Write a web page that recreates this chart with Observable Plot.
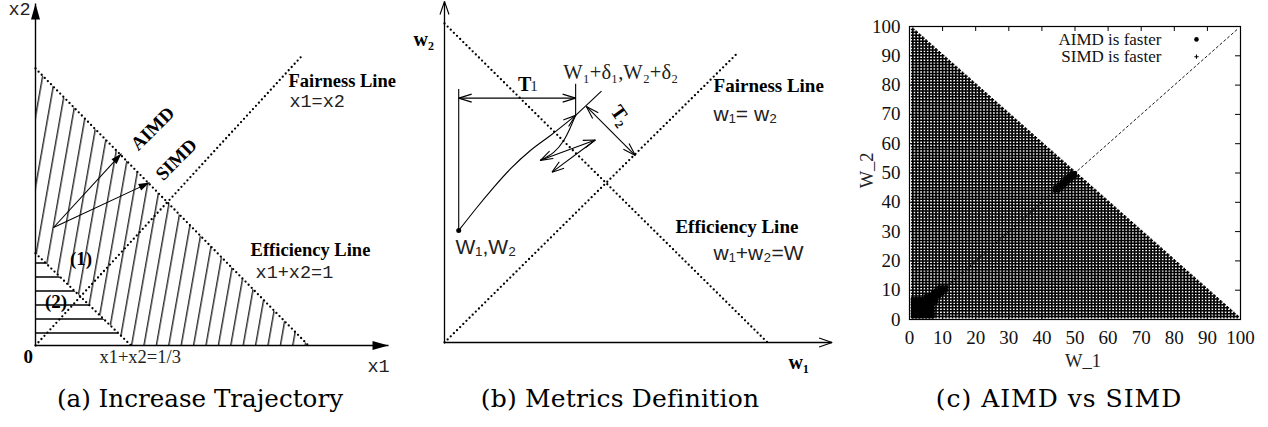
<!DOCTYPE html>
<html><head><meta charset="utf-8">
<script src="https://cdn.jsdelivr.net/npm/d3@7"></script>
<script src="https://cdn.jsdelivr.net/npm/@observablehq/plot@0.6"></script>
<style>
html,body{margin:0;padding:0;background:#fff;}
#root{position:relative;width:1268px;height:427px;overflow:hidden;background:#fff;}
.panel{position:absolute;top:0;}
.caption{position:absolute;top:386px;font-family:"DejaVu Serif";font-size:25px;line-height:25px;white-space:nowrap;transform:translateX(-50%);color:#000;}
</style></head><body>
<svg width="0" height="0" style="position:absolute">
<defs>
<pattern id="hatchDiag" patternUnits="userSpaceOnUse" width="12.4" height="40" patternTransform="skewX(-10)">
<line x1="6.5" y1="0" x2="6.5" y2="40" stroke="#000" stroke-width="1.2"/>
</pattern>
<pattern id="hatchHoriz" patternUnits="userSpaceOnUse" width="40" height="14">
<line x1="0" y1="11" x2="40" y2="11" stroke="#000" stroke-width="1.3"/>
</pattern>
</defs></svg>
<div id="root"></div>
<script>
// ---------------- Panel (a): Increase Trajectory ----------------
const aEfficiency = [{x: 0, y: 1}, {x: 1, y: 0}];
const aThird = [{x: 0, y: 0.333}, {x: 0.35, y: 0}];
const aFairness = [{x: 0, y: 0}, {x: 0.98, y: 1.05}];
const aRegion1 = [{x: 0, lo: 0.333, hi: 1}, {x: 0.35, lo: 0, hi: 0.65}, {x: 1, lo: 0, hi: 0}];
const aRegion2 = [{x: 0, lo: 0, hi: 0.333}, {x: 0.35, lo: 0, hi: 0}];
const aAxes = [{x1: 0, y1: 0, x2: 1.293, y2: 0}, {x1: 0, y1: 0, x2: 0, y2: 1.235}];
const aMoves = [
  {x1: 0.066, y1: 0.426, x2: 0.315, y2: 0.693},
  {x1: 0.066, y1: 0.426, x2: 0.418, y2: 0.588}
];
const aBoldLabels = [
  {text: "Fairness Line", x: 0.927, y: 0.953},
  {text: "Efficiency Line", x: 0.788, y: 0.343}
];
const aMonoLabels = [
  {text: "x1=x2", x: 0.930, y: 0.884},
  {text: "x1+x2=1", x: 0.806, y: 0.264},
  {text: "x2", x: -0.099, y: 1.213},
  {text: "x1", x: 1.216, y: -0.076}
];
const aCenterBold = [
  {text: "(1)", x: 0.167, y: 0.314},
  {text: "(2)", x: 0.075, y: 0.159},
  {text: "0", x: -0.027, y: -0.040}
];
const aSchemeLabels = [{text: "AIMD", x: 0.429, y: 0.783}, {text: "SIMD", x: 0.516, y: 0.671}];
const aSerifLabels = [{text: "x1+x2=1/3", x: 0.234, y: -0.040}];

// ---------------- Panel (b): Metrics Definition ----------------
const bEfficiency = [{x: 0, y: 1}, {x: 1, y: 0}];
const bFairness = [{x: 0, y: 0}, {x: 0.907, y: 0.907}];
const bAxes = [{x1: 0, y1: 0, x2: 1.2, y2: 0}, {x1: 0, y1: 0, x2: 0, y2: 1.069}];
const bStart = [{x: 0.044, y: 0.351}];
const bPath1 = [
  {x: 0.044, y: 0.351}, {x: 0.101, y: 0.424}, {x: 0.153, y: 0.487}, {x: 0.204, y: 0.544},
  {x: 0.266, y: 0.602}, {x: 0.328, y: 0.649}, {x: 0.406, y: 0.712}
];
const bPath2 = [
  {x: 0.406, y: 0.712}, {x: 0.390, y: 0.675}, {x: 0.369, y: 0.633}, {x: 0.338, y: 0.596}, {x: 0.297, y: 0.571}
];
const bOscillation = [
  {x1: 0.297, y1: 0.571, x2: 0.467, y2: 0.635},
  {x1: 0.467, y1: 0.635, x2: 0.333, y2: 0.534}
];
const bGuides = [
  {x1: 0.044, y1: 0.351, x2: 0.044, y2: 0.795},
  {x1: 0.406, y1: 0.712, x2: 0.406, y2: 0.811},
  {x1: 0.406, y1: 0.712, x2: 0.486, y2: 0.788}
];
const bSpans = [
  {x1: 0.044, y1: 0.766, x2: 0.406, y2: 0.766},
  {x1: 0.439, y1: 0.740, x2: 0.591, y2: 0.586}
];
const bBoldLabels = [
  {text: "Fairness Line", x: 0.833, y: 0.803},
  {text: "Efficiency Line", x: 0.715, y: 0.361}
];
const bSansLabels = [
  {text: "w₁= w₂", x: 0.833, y: 0.716},
  {text: "w₁+w₂=W", x: 0.833, y: 0.279},
  {text: "W₁,W₂", x: 0.034, y: 0.299}
];
const bSerifLabels = [{text: "W₁+δ₁,W₂+δ₂", x: 0.368, y: 0.846}];
const bAxisLabels = [{text: "w₂", x: -0.096, y: 0.950}, {text: "w₁", x: 1.065, y: -0.063}];
const bT1 = [{text: "T", x: 0.248, y: 0.809}];
const bT1sub = [{text: "1", x: 0.277, y: 0.802}];
const bT2 = [{text: "T₂", x: 0.545, y: 0.712}];

// ---------------- Panel (c): AIMD vs SIMD ----------------
const cTicks = [0, 10, 20, 30, 40, 50, 60, 70, 80, 90, 100];
const cWindowSizes = d3.range(1, 100); // one simulated point per integer window size
// AIMD-is-faster cells: [W_2, first W_1, last W_1]
const cAimdRows = [
  [1, 1, 7], [2, 1, 7], [3, 1, 7], [4, 1, 7], [5, 1, 7], [6, 1, 8], [7, 1, 8],
  [8, 5, 9], [9, 7, 10], [10, 8, 11], [11, 9, 11],
  [44, 44, 45], [45, 44, 46], [46, 45, 47], [47, 46, 48], [48, 47, 49], [49, 48, 50], [50, 49, 50]
];
const cDiagonal = [{x: 1, y: 1}, {x: 99, y: 99}];
const cLegend = [
  {text: "AIMD is faster", x: 76.1, y: 95.6, sx: 86.7, kind: "dot"},
  {text: "SIMD is faster", x: 76.1, y: 89.7, sx: 86.7, kind: "plus"}
];
const cXLabel = [{text: "W_1", x: 52.4, y: -14.3}];
const cYLabel = [{text: "W_2", x: -12.8, y: 50.9}];

// derived tables
const cSimd = [];
for (const w1 of cWindowSizes) for (const w2 of cWindowSizes) if (w1 + w2 <= 100) cSimd.push({w1, w2});
const cAimd = [];
for (const [w2, a, b] of cAimdRows) for (let w1 = a; w1 <= b; ++w1) cAimd.push({w1, w2});

// ---------------- helpers ----------------
const NS = "http://www.w3.org/2000/svg";
function head(len, half, filled, orient = "auto") {
  return (color) => {
    const m = document.createElementNS(NS, "marker");
    m.setAttribute("viewBox", `-2 ${-half - 2} ${len + 4} ${2 * half + 4}`);
    m.setAttribute("markerUnits", "userSpaceOnUse");
    m.setAttribute("markerWidth", len + 4);
    m.setAttribute("markerHeight", 2 * half + 4);
    m.setAttribute("refX", len);
    m.setAttribute("refY", 0);
    m.setAttribute("orient", orient);
    m.setAttribute("overflow", "visible");
    const p = document.createElementNS(NS, "path");
    p.setAttribute("d", filled ? `M0,${-half}L${len},0L0,${half}Z` : `M0,${-half}L${len},0L0,${half}`);
    p.setAttribute("fill", filled ? color : "none");
    p.setAttribute("stroke", filled ? "none" : color);
    p.setAttribute("stroke-width", 1.1);
    m.appendChild(p);
    return m;
  };
}
const dotted = {stroke: "black", strokeWidth: 2.3, strokeDasharray: "0 4.4", strokeLinecap: "round"};
const serif = "Liberation Serif", mono = "Liberation Mono", sans = "Liberation Sans";
const baseStyle = {background: "transparent", overflow: "visible", color: "black"};

function mount(node, left, width) {
  const d = document.createElement("div");
  d.className = "panel";
  d.style.left = left + "px";
  d.style.width = width + "px";
  d.appendChild(node);
  document.getElementById("root").appendChild(d);
}
function caption(text, cx, size, spacing) {
  const d = document.createElement("div");
  d.className = "caption";
  d.style.left = cx + "px";
  d.style.fontSize = size + "px";
  d.style.letterSpacing = spacing + "px";
  d.textContent = text;
  document.getElementById("root").appendChild(d);
}

// ---------------- Panel (a) ----------------
const plotA = Plot.plot({
  width: 420, height: 380, margin: 0,
  style: baseStyle,
  x: {domain: [0, 1], range: [35, 308], axis: null},
  y: {domain: [0, 1], range: [345, 68], axis: null},
  marks: [
    Plot.area(aRegion1, {x1: "x", y1: "lo", y2: "hi", fill: "url(#hatchDiag)"}),
    Plot.area(aRegion2, {x1: "x", y1: "lo", y2: "hi", fill: "url(#hatchHoriz)"}),
    Plot.line(aEfficiency, {x: "x", y: "y", ...dotted}),
    Plot.line(aThird, {x: "x", y: "y", ...dotted}),
    Plot.line(aFairness, {x: "x", y: "y", ...dotted}),
    Plot.link(aAxes, {x1: "x1", y1: "y1", x2: "x2", y2: "y2", stroke: "black", strokeWidth: 1.4, markerEnd: head(16, 4.5, true)}),
    Plot.link(aMoves, {x1: "x1", y1: "y1", x2: "x2", y2: "y2", stroke: "black", strokeWidth: 1.1, markerEnd: head(11, 3.5, true)}),
    Plot.text(aBoldLabels, {x: "x", y: "y", text: "text", textAnchor: "start", fontFamily: serif, fontWeight: "bold", fontSize: 18.5, fill: "black"}),
    Plot.text(aMonoLabels, {x: "x", y: "y", text: "text", textAnchor: "start", fontFamily: mono, fontSize: 18.5, fill: "#222"}),
    Plot.text(aCenterBold, {x: "x", y: "y", text: "text", fontFamily: serif, fontWeight: "bold", fontSize: 19, fill: "black"}),
    Plot.text(aSchemeLabels, {x: "x", y: "y", text: "text", rotate: -45, fontFamily: serif, fontWeight: "bold", fontSize: 19, fill: "black"}),
    Plot.text(aSerifLabels, {x: "x", y: "y", text: "text", textAnchor: "start", fontFamily: serif, fontSize: 18.5, fill: "#222"})
  ]
});
mount(plotA, 0, 420);

// ---------------- Panel (b) ----------------
const plotB = Plot.plot({
  width: 470, height: 380, margin: 0,
  style: baseStyle,
  x: {domain: [0, 1], range: [64, 387], axis: null},
  y: {domain: [0, 1], range: [342, 23], axis: null},
  marks: [
    Plot.line(bEfficiency, {x: "x", y: "y", ...dotted}),
    Plot.line(bFairness, {x: "x", y: "y", ...dotted}),
    Plot.link(bAxes, {x1: "x1", y1: "y1", x2: "x2", y2: "y2", stroke: "black", strokeWidth: 1.3, markerEnd: head(13, 4.5, false)}),
    Plot.link(bGuides, {x1: "x1", y1: "y1", x2: "x2", y2: "y2", stroke: "black", strokeWidth: 1.1}),
    Plot.link(bSpans, {x1: "x1", y1: "y1", x2: "x2", y2: "y2", stroke: "black", strokeWidth: 1.1,
      markerStart: head(13, 4, false, "auto-start-reverse"), markerEnd: head(13, 4, false)}),
    Plot.line(bPath1, {x: "x", y: "y", curve: "natural", stroke: "black", strokeWidth: 1.1, markerEnd: head(12, 4, false)}),
    Plot.line(bPath2, {x: "x", y: "y", curve: "natural", stroke: "black", strokeWidth: 1.1, markerEnd: head(12, 4, false)}),
    Plot.link(bOscillation, {x1: "x1", y1: "y1", x2: "x2", y2: "y2", stroke: "black", strokeWidth: 1.1, markerEnd: head(12, 4, false)}),
    Plot.dot(bStart, {x: "x", y: "y", r: 2.5, fill: "black"}),
    Plot.text(bBoldLabels, {x: "x", y: "y", text: "text", textAnchor: "start", fontFamily: serif, fontWeight: "bold", fontSize: 19, fill: "black"}),
    Plot.text(bSansLabels, {x: "x", y: "y", text: "text", textAnchor: "start", fontFamily: sans, fontSize: 21, fill: "#222"}),
    Plot.text(bSerifLabels, {x: "x", y: "y", text: "text", textAnchor: "start", fontFamily: serif, fontSize: 20.5, fill: "#222"}),
    Plot.text(bAxisLabels, {x: "x", y: "y", text: "text", textAnchor: "start", fontFamily: serif, fontWeight: "bold", fontSize: 20, fill: "black"}),
    Plot.text(bT1, {x: "x", y: "y", text: "text", fontFamily: serif, fontWeight: "bold", fontSize: 20, fill: "black"}),
    Plot.text(bT1sub, {x: "x", y: "y", text: "text", fontFamily: serif, fontSize: 15, fill: "#222"}),
    Plot.text(bT2, {x: "x", y: "y", text: "text", rotate: 55, fontFamily: serif, fontWeight: "bold", fontSize: 20, fill: "black"})
  ]
});
mount(plotB, 380, 470);

// ---------------- Panel (c) ----------------
const plotC = Plot.plot({
  width: 418, height: 380,
  marginLeft: 59, marginRight: 28, marginTop: 26, marginBottom: 61,
  style: {...baseStyle, fontFamily: serif, fontSize: "18px"},
  x: {domain: [0, 100], axis: null},
  y: {domain: [0, 100], axis: null},
  marks: [
    Plot.dot(cSimd, {x: "w1", y: "w2", symbol: "plus", r: 1.3, stroke: "black", strokeWidth: 1.5}),
    Plot.dot(cAimd, {x: "w1", y: "w2", r: 2.3, fill: "black"}),
    Plot.line(cDiagonal, {x: "x", y: "y", stroke: "black", strokeWidth: 0.9, strokeDasharray: "3 2", strokeLinecap: "butt"}),
    Plot.ruleX(cTicks, {x: (d) => d, y1: 0, y2: 1.7, stroke: "black"}),
    Plot.ruleX(cTicks, {x: (d) => d, y1: 98.3, y2: 100, stroke: "black"}),
    Plot.ruleY(cTicks, {y: (d) => d, x1: 0, x2: 1.5, stroke: "black"}),
    Plot.ruleY(cTicks, {y: (d) => d, x1: 98.5, x2: 100, stroke: "black"}),
    Plot.frame({stroke: "black", strokeWidth: 1.2}),
    Plot.text(cTicks, {x: (d) => d, y: 0, dy: 18, text: (d) => String(d), fontSize: 19, fill: "#111"}),
    Plot.text(cTicks, {x: 0, y: (d) => d, dx: -9, textAnchor: "end", text: (d) => String(d), fontSize: 19, fill: "#111"}),
    Plot.text(cLegend, {x: "x", y: "y", text: "text", textAnchor: "end", fontSize: 17, fill: "#111"}),
    Plot.dot(cLegend.filter((d) => d.kind === "dot"), {x: "sx", y: "y", r: 2.3, fill: "black"}),
    Plot.dot(cLegend.filter((d) => d.kind === "plus"), {x: "sx", y: "y", symbol: "plus", r: 1.5, stroke: "black", strokeWidth: 1.1}),
    Plot.text(cXLabel, {x: "x", y: "y", text: "text", fontSize: 18.5, fill: "#222"}),
    Plot.text(cYLabel, {x: "x", y: "y", text: "text", rotate: -90, fontSize: 18.5, fill: "#222"})
  ]
});
mount(plotC, 850, 418);

caption("(a) Increase Trajectory", 200, 24.6, 0);
caption("(b) Metrics Definition", 620, 25, 0.2);
caption("(c) AIMD vs SIMD", 1059, 25, 1);
</script>
</body></html>
